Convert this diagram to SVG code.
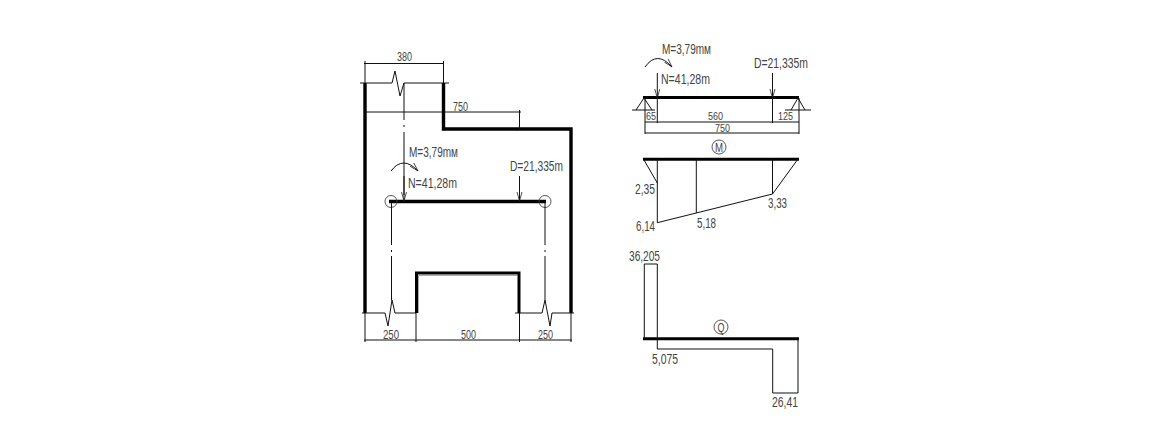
<svg xmlns="http://www.w3.org/2000/svg" width="1156" height="433" viewBox="0 0 1156 433">
<defs>
<marker id="arr" markerUnits="userSpaceOnUse" markerWidth="10" markerHeight="8" refX="9" refY="3" orient="auto"><path d="M0,0.5L9,3L0,5.5" fill="none" stroke="#222" stroke-width="0.8"/></marker>
</defs>
<style>
.t{font-family:"Liberation Sans",Arial,sans-serif;fill:#444}
.s{font-size:12.5px}.m{font-size:14.5px}.l{font-size:15px}.x{font-size:11px}
.th{fill:none;stroke:#000;stroke-width:3.4;stroke-linecap:butt}
.b{fill:none;stroke:#000;stroke-width:3}
.n{fill:none;stroke:#111;stroke-width:1}
.f{fill:none;stroke:#444;stroke-width:0.9}
.a{fill:none;stroke:#111;stroke-width:1;marker-end:url(#arr)}
</style>
<rect width="1156" height="433" fill="#fff"/>
<g id="frame">
<path class="th" d="M365,83V313"/>
<path class="th" d="M443.500,83V129H571V313"/>
<path class="th" d="M389,201.500H546"/>
<path class="b" d="M416.500,313V273H519V313"/>
<path d="M418.500,313V275.500H517" fill="none" stroke="#aaa" stroke-width="1"/>
<circle class="f" cx="391" cy="201.500" r="6"/>
<circle class="f" cx="545" cy="201.500" r="6"/>
</g>
<g id="connectors">
<path class="n" d="M360,83H392L395,71L400,96L404,83H449"/>
<path class="n" d="M404,83V120M404,125V127M404,132V195"/>
<path class="n" d="M391.500,201V245M391.500,250V252M391.500,256V300"/>
<path class="n" d="M545,201V245M545,250V252M545,256V300"/>
<path class="n" d="M362,313H385L388,326L392,300L395,313H416"/>
<path class="n" d="M515,313H542L545,300L550,326L552,313H574"/>
<path class="n" d="M364,63.500H444M365,61V83M443.500,61V83"/>
<path class="n" d="M365,112H521M519.500,110V129"/>
<path class="n" d="M364,340H572M365,313V342M416,313V342M519.500,313V342M571,313V342"/>
<path class="a" d="M404,176V201"/>
<path class="a" d="M519.500,176V201"/>
<path class="a" d="M391,171Q403,155 418,171"/>
</g>
<g id="frame-labels">
<text class="t s" x="397" y="61" textLength="15" lengthAdjust="spacingAndGlyphs">380</text>
<text class="t s" x="453" y="111" textLength="15" lengthAdjust="spacingAndGlyphs">750</text>
<text class="t m" x="409" y="157" textLength="49" lengthAdjust="spacingAndGlyphs">M=3,79mм</text>
<text class="t m" x="408" y="188" textLength="49" lengthAdjust="spacingAndGlyphs">N=41,28m</text>
<text class="t m" x="510" y="171" textLength="53" lengthAdjust="spacingAndGlyphs">D=21,335m</text>
<text class="t s" x="383" y="339" textLength="16" lengthAdjust="spacingAndGlyphs">250</text>
<text class="t s" x="461" y="339" textLength="15" lengthAdjust="spacingAndGlyphs">500</text>
<text class="t s" x="538" y="339" textLength="15" lengthAdjust="spacingAndGlyphs">250</text>
</g>
<g id="beam">
<path class="b" d="M643,97.500H799"/>
<path class="n" d="M636,110L644,98L652,110M632,110H655M791,110L798,98L805,110M785,110H811"/>
<path class="n" d="M645,122H799M645,133H799M645,98V134M799,98V134M657.300,98V123M772.500,98V123"/>
<path class="a" d="M657.300,73V98"/>
<path class="a" d="M772.500,73V98"/>
<path class="a" d="M645,67Q657,50 672,67"/>
<text class="t m" x="662" y="54" textLength="49" lengthAdjust="spacingAndGlyphs">M=3,79mм</text>
<text class="t m" x="661" y="84" textLength="49" lengthAdjust="spacingAndGlyphs">N=41,28m</text>
<text class="t m" x="754" y="68" textLength="54" lengthAdjust="spacingAndGlyphs">D=21,335m</text>
<text class="t x" x="646" y="119.500" textLength="10" lengthAdjust="spacingAndGlyphs">65</text>
<text class="t x" x="708" y="119.500" textLength="15" lengthAdjust="spacingAndGlyphs">560</text>
<text class="t x" x="778" y="119.500" textLength="15" lengthAdjust="spacingAndGlyphs">125</text>
<text class="t x" x="715" y="132.200" textLength="15" lengthAdjust="spacingAndGlyphs">750</text>
</g>
<g id="moment-diagram">
<path class="b" d="M643,159.300H799"/>
<path class="n" d="M644,160L657.300,183M657.300,159V222.700L772.500,194L798,159M772.500,159V194M696.300,159V213"/>
<circle class="f" cx="719" cy="147" r="7"/>
<text class="t s" x="715" y="151.500" textLength="8" lengthAdjust="spacingAndGlyphs">M</text>
<text class="t l" x="635" y="194" textLength="20" lengthAdjust="spacingAndGlyphs">2,35</text>
<text class="t l" x="636" y="231" textLength="19" lengthAdjust="spacingAndGlyphs">6,14</text>
<text class="t l" x="697" y="228" textLength="19" lengthAdjust="spacingAndGlyphs">5,18</text>
<text class="t l" x="768" y="208" textLength="19" lengthAdjust="spacingAndGlyphs">3,33</text>
</g>
<g id="shear-diagram">
<path class="b" d="M643,338.700H799"/>
<path class="n" d="M644.300,339V264H657.300V349H772.700V393H798V339"/>
<circle class="f" cx="721" cy="327" r="7"/>
<text class="t s" x="717.500" y="331.500" textLength="7" lengthAdjust="spacingAndGlyphs">Q</text>
<text class="t l" x="629" y="261" textLength="31" lengthAdjust="spacingAndGlyphs">36,205</text>
<text class="t l" x="652" y="364" textLength="26" lengthAdjust="spacingAndGlyphs">5,075</text>
<text class="t l" x="772" y="407" textLength="26" lengthAdjust="spacingAndGlyphs">26,41</text>
</g>
</svg>
